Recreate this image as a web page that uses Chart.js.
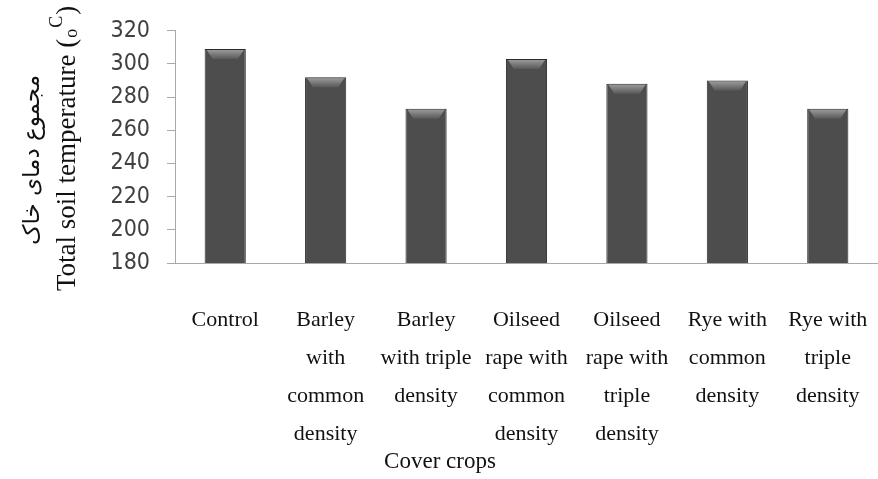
<!DOCTYPE html>
<html>
<head>
<meta charset="utf-8">
<script src="https://cdn.jsdelivr.net/npm/chart.js@4.4.1/dist/chart.umd.min.js"></script>
<style>
  html, body { margin: 0; padding: 0; background: #fff; }
  #wrap { width: 878px; height: 479px; }
</style>
</head>
<body>
<div id="wrap"><canvas id="chart"></canvas></div>
<script>
// categories (multi-line labels as they wrap in the picture)
const categories = [
    ['Control'],
    ['Barley', 'with', 'common', 'density'],
    ['Barley', 'with triple', 'density'],
    ['Oilseed', 'rape with', 'common', 'density'],
    ['Oilseed', 'rape with', 'triple', 'density'],
    ['Rye with', 'common', 'density'],
    ['Rye with', 'triple', 'density'],
];
const soilTemp = [309, 292, 273, 303, 288, 290, 273];
const yMin = 180;
const yMax = 320;
const yStep = 20;

const xTitle = 'Cover crops';
const yTitleFa = 'مجموع دمای خاک';
const yTitleEn = 'Total soil temperature (';

// horizontal shading across each bar
function barFill(ctx) {
    const chart = ctx.chart;
    const el = ctx.element;
    if (!chart.chartArea || !el || !el.width) return '#4d4d4d';
    const x0 = el.x - el.width / 2, x1 = el.x + el.width / 2;
    const g = chart.ctx.createLinearGradient(x0, 0, x1, 0);
    g.addColorStop(0, '#333333');
    g.addColorStop(0.12, '#4a4a4a');
    g.addColorStop(0.5, '#5a5a5a');
    g.addColorStop(0.88, '#4a4a4a');
    g.addColorStop(1, '#333333');
    return g;
}

// bevel highlight on top of each bar
const barCaps = {
    id: 'barCaps',
    afterDatasetsDraw(chart) {
        const ctx = chart.ctx;
        chart.getDatasetMeta(0).data.forEach(bar => {
            const l = bar.x - bar.width / 2, r = bar.x + bar.width / 2;
            const g = ctx.createLinearGradient(0, bar.y, 0, bar.y + 10);
            g.addColorStop(0, '#a0a0a0');
            g.addColorStop(1, '#585858');
            ctx.save();
            ctx.fillStyle = g;
            ctx.beginPath();
            ctx.moveTo(l + 2, bar.y + 1);
            ctx.lineTo(r - 2, bar.y + 1);
            ctx.lineTo(r - 8, bar.y + 10);
            ctx.lineTo(l + 8, bar.y + 10);
            ctx.closePath();
            ctx.fill();
            ctx.restore();
        });
    }
};

// axis titles (rotated bilingual y title, off-centre x title)
const axisTitles = {
    id: 'axisTitles',
    afterDraw(chart) {
        const ctx = chart.ctx;
        ctx.save();
        ctx.fillStyle = '#111';
        ctx.textBaseline = 'alphabetic';

        ctx.font = '23px "Liberation Serif", serif';
        ctx.textAlign = 'center';
        ctx.fillText(xTitle, 440, 468);

        // Persian line
        ctx.save();
        ctx.translate(39, 160);
        ctx.rotate(-Math.PI / 2);
        ctx.font = '23px "DejaVu Sans", sans-serif';
        ctx.textAlign = 'center';
        ctx.fillText(yTitleFa, 0, 0);
        ctx.restore();

        // English line with (oC)
        ctx.save();
        ctx.translate(75, 291);
        ctx.rotate(-Math.PI / 2);
        ctx.textAlign = 'left';
        ctx.font = '27px "Liberation Serif", serif';
        let x = 0;
        ctx.fillText(yTitleEn, x, 0);
        x += ctx.measureText(yTitleEn).width + 1;
        ctx.font = '18px "Liberation Serif", serif';
        ctx.fillText('o', x, 2);
        x += ctx.measureText('o').width + 1;
        ctx.fillText('C', x, -13);
        x += ctx.measureText('C').width + 1;
        ctx.font = '27px "Liberation Serif", serif';
        ctx.fillText(')', x, 0);
        ctx.restore();

        ctx.restore();
    }
};

new Chart(document.getElementById('chart'), {
    type: 'bar',
    data: {
        labels: categories,
        datasets: [{
            data: soilTemp,
            backgroundColor: barFill,
            borderColor: '#2a2a2a',
            borderWidth: 1,
            borderSkipped: 'bottom',
            barPercentage: 0.41,
            categoryPercentage: 1.0,
        }]
    },
    options: {
        responsive: true,
        maintainAspectRatio: false,
        animation: false,
        layout: { padding: { top: 23, right: -4, bottom: 0, left: 0 } },
        plugins: {
            legend: { display: false },
            tooltip: { enabled: false },
        },
        scales: {
            x: {
                grid: { display: false },
                border: { display: true, color: '#a8a8a8', width: 1 },
                ticks: {
                    color: '#111',
                    padding: 30,
                    maxRotation: 0,
                    autoSkip: false,
                    font: { family: '"Liberation Serif", serif', size: 22, lineHeight: 1.73 },
                },
                afterFit: (scale) => {
                    scale.height = 216;
                    scale.paddingLeft = 0;
                    scale.paddingRight = 0;
                },
            },
            y: {
                min: yMin,
                max: yMax,
                grid: { drawOnChartArea: false, color: '#a8a8a8', tickLength: 8 },
                border: { display: true, color: '#a8a8a8', width: 1 },
                ticks: {
                    stepSize: yStep,
                    color: '#404040',
                    padding: 17,
                    font: { family: '"Liberation Sans Narrow", "DejaVu Sans Condensed", sans-serif', size: 23 },
                },
                afterFit: (scale) => { scale.width = 175; },
            }
        }
    },
    plugins: [barCaps, axisTitles],
});
</script>
</body>
</html>
